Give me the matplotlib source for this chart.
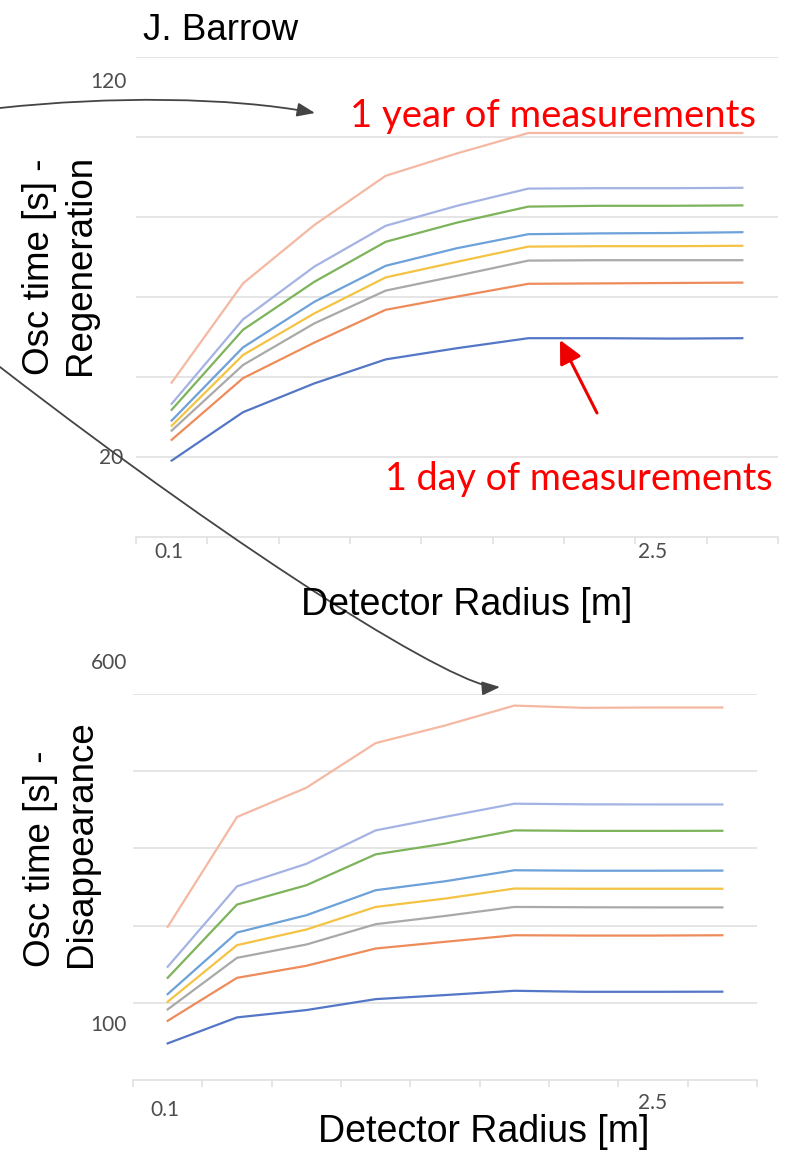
import numpy as np
import matplotlib
matplotlib.use("Agg")
import matplotlib.pyplot as plt
from matplotlib.patches import FancyArrowPatch
from matplotlib.path import Path

W, H = 788, 1153

# detector radius categories (only the first and the 2.5 m point are labelled)
radius_labels = ["0.1", "", "", "", "", "", "", "2.5", ""]

# oscillation time, regeneration: series 1 = 1 day ... series 8 = 1 year of data
regen_1 = [19.1, 31.2, 38.4, 44.4, 47.2, 49.7, 49.7, 49.6, 49.7]
regen_2 = [24.3, 39.7, 48.6, 56.8, 60.1, 63.3, 63.4, 63.5, 63.6]
regen_3 = [26.6, 43.0, 53.4, 61.6, 65.3, 69.1, 69.2, 69.2, 69.2]
regen_4 = [27.8, 45.5, 55.9, 64.9, 68.8, 72.6, 72.7, 72.7, 72.8]
regen_5 = [29.1, 47.4, 58.8, 67.8, 72.2, 75.7, 75.9, 76.0, 76.2]
regen_6 = [31.8, 51.8, 63.8, 73.8, 78.6, 82.6, 82.8, 82.8, 82.9]
regen_7 = [33.3, 54.4, 67.6, 77.8, 82.8, 87.1, 87.2, 87.2, 87.3]
regen_8 = [38.6, 63.4, 78.0, 90.3, 95.9, 101.0, 101.0, 101.0, 101.0]

# oscillation time, disappearance
disap_1 = [56.9, 97.3, 108.7, 125.7, 132.0, 138.7, 137.1, 137.1, 137.3]
disap_2 = [92.0, 158.8, 177.5, 204.4, 214.8, 225.0, 224.5, 224.5, 225.0]
disap_3 = [109.7, 189.9, 210.6, 242.2, 255.0, 269.0, 268.5, 268.3, 268.3]
disap_4 = [121.6, 209.6, 233.9, 269.0, 282.0, 297.6, 297.3, 297.3, 297.3]
disap_5 = [133.5, 229.2, 256.1, 295.0, 308.9, 326.0, 325.3, 325.3, 325.5]
disap_6 = [158.8, 272.7, 302.7, 350.8, 367.4, 388.0, 387.2, 387.2, 387.4]
disap_7 = [176.0, 301.0, 336.0, 388.0, 409.0, 429.5, 428.5, 428.3, 428.3]
disap_8 = [238.0, 408.8, 454.3, 523.7, 551.0, 582.0, 578.5, 579.0, 579.0]

colors = ["#5476c6", "#ee8b5a", "#a9a9a9", "#f4c343",
          "#6ca1d9", "#7db35a", "#a4b3e3", "#f5b8a2"]

GRID = "#dedede"
TICK = "#4d4d4d"

plt.rcParams["font.family"] = ["Liberation Sans", "DejaVu Sans"]

fig = plt.figure(figsize=(W / 100, H / 100), dpi=100)


def box(left, top, right, bottom):
    return fig.add_axes([left / W, 1 - bottom / H, (right - left) / W, (bottom - top) / H])


def fxy(x, y):
    return x / W, 1 - y / H


def draw_chart(ax, series, ymax, step, ylabels, xlab_offsets):
    x = np.arange(len(radius_labels))
    for v in range(step, ymax + 1, step):
        ax.axhline(v, color=GRID, lw=1.1, zorder=0)
    for s, c in zip(series, colors):
        ax.plot(x, s, color=c, lw=1.6, solid_joinstyle="miter", zorder=2)
    ax.set_xlim(-0.5, len(radius_labels) - 0.5)
    ax.set_ylim(0, ymax)
    ax.set_xticks(np.arange(-0.5, len(radius_labels), 1))
    ax.set_xticklabels([])
    ax.set_yticks([])
    ax.tick_params(axis="x", length=5, width=1.1, color=GRID)
    for side in ["top", "right", "left"]:
        ax.spines[side].set_visible(False)
    ax.spines["bottom"].set_color(GRID)
    ax.spines["bottom"].set_linewidth(1.1)
    for val, txt, dx, dy in ylabels:
        ax.annotate(txt, xy=(0, val), xycoords=("axes fraction", "data"),
                    xytext=(dx, dy), textcoords="offset pixels",
                    ha="right", va="center", fontsize=15, color=TICK,
                    family=["Lato", "DejaVu Sans"])
    for i, txt in enumerate(radius_labels):
        if txt:
            dx, dy = xlab_offsets[txt]
            ax.annotate(txt, xy=(i, 0), xycoords="data",
                        xytext=(dx, dy), textcoords="offset pixels",
                        ha="center", va="center", fontsize=15, color=TICK,
                        family=["Lato", "DejaVu Sans"])


ax_top = box(136, 57, 778, 537)
draw_chart(ax_top,
           [regen_1, regen_2, regen_3, regen_4, regen_5, regen_6, regen_7, regen_8],
           120, 20,
           [(120, "120", -9, -25), (20, "20", -13, -1)],
           {"0.1": (-3, -15), "2.5": (-18, -15)})

ax_bot = box(133, 694, 757, 1080)
draw_chart(ax_bot,
           [disap_1, disap_2, disap_3, disap_4, disap_5, disap_6, disap_7, disap_8],
           600, 120,
           [(600, "600", -6, 31), (100, "100", -6, -9)],
           {"0.1": (-3, -30), "2.5": (0, -23)})

# titles and axis labels
fig.text(*fxy(143, 40), "J. Barrow", fontsize=26.5, ha="left", va="baseline")
fig.text(*fxy(60, 265), "Osc time [s] -\nRegeneration", fontsize=26.5,
         rotation=90, ha="center", va="center", multialignment="left")
fig.text(*fxy(61, 844), "Osc time [s] -\nDisappearance", fontsize=26.5,
         rotation=90, ha="center", va="center", multialignment="left")
fig.text(*fxy(467, 615), "Detector Radius [m]", fontsize=27, ha="center", va="baseline")
fig.text(*fxy(484, 1142), "Detector Radius [m]", fontsize=27, ha="center", va="baseline")

# red annotations
fig.text(*fxy(350, 127), "1 year of measurements", fontsize=27.5, color="#ff0000",
         ha="left", va="baseline", family=["Lato", "DejaVu Sans"])
fig.text(*fxy(385, 490), "1 day of measurements", fontsize=27.2, color="#ff0000",
         ha="left", va="baseline", family=["Lato", "DejaVu Sans"])
fig.add_artist(FancyArrowPatch(fxy(597, 413), fxy(560, 340), transform=fig.transFigure,
                               arrowstyle="-|>,head_length=0.7,head_width=0.35",
                               mutation_scale=20, color="#ee0000", lw=2.2,
                               shrinkA=0, shrinkB=0))


# gray connector arrows
def curve(p0, p1, p2, p3):
    verts = [fxy(*p0), fxy(*p1), fxy(*p2), fxy(*p3)]
    codes = [Path.MOVETO, Path.CURVE4, Path.CURVE4, Path.CURVE4]
    return FancyArrowPatch(path=Path(verts, codes), transform=fig.transFigure,
                           arrowstyle="-|>,head_length=0.9,head_width=0.35",
                           mutation_scale=12, color="#444444", lw=1.3)


fig.add_artist(curve((0, 108), (110, 96), (230, 97), (315, 113)))
fig.add_artist(curve((0, 367), (250, 560), (460, 690), (500, 687)))

fig.savefig("out.png", dpi=100)
